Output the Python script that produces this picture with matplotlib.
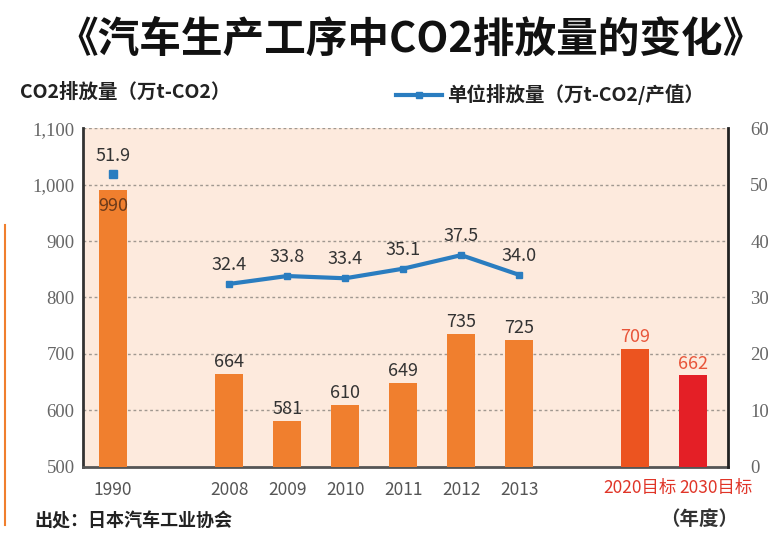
import matplotlib
matplotlib.use("Agg")
import matplotlib.pyplot as plt
import numpy as np

plt.rcParams['font.family'] = ['Noto Sans CJK SC', 'DejaVu Sans']

# data
categories = ["1990", "2008", "2009", "2010", "2011", "2012", "2013", "2020目标", "2030目标"]
positions = [0, 2, 3, 4, 5, 6, 7, 9, 10]
emissions = [990, 664, 581, 610, 649, 735, 725, 709, 662]
unit_1990 = 51.9
unit_years = [32.4, 33.8, 33.4, 35.1, 37.5, 34.0]   # 2008-2013
left_ticks = [500, 600, 700, 800, 900, 1000, 1100]
right_ticks = [0, 10, 20, 30, 40, 50, 60]

orange = "#f07f2e"
bar_colors = [orange] * 7 + ["#ec5420", "#e41f26"]
blue = "#2a7dc0"

fig = plt.figure(figsize=(7.68, 5.36), dpi=100)
fig.patch.set_facecolor("white")
ax = fig.add_axes([0.108, 0.129, 0.84, 0.632])
ax.set_facecolor("#fdeadd")

ax.bar(positions, [v - 500 for v in emissions], bottom=500, width=0.48,
       color=bar_colors, zorder=3)
ax.set_ylim(500, 1100)
ax.set_xlim(-0.52, 10.6)
ax.set_yticks(left_ticks)
ax.set_yticklabels(["{:,}".format(t) for t in left_ticks], family="Liberation Serif",
                   fontsize=13.5, color="#666")
for t in left_ticks[1:]:
    ax.axhline(t, color="#a09890", lw=1, ls=(0, (2, 2)), zorder=1)

ax.set_xticks(positions[:7])
ax.set_xticklabels(categories[:7], fontsize=12.5, color="#555")
# target labels sit side by side under the last two bars
ax.text(9.72, -0.035, categories[7], transform=ax.get_xaxis_transform(), ha="right",
        va="top", fontsize=12.5, color="#e03528")
ax.text(9.76, -0.035, categories[8], transform=ax.get_xaxis_transform(), ha="left",
        va="top", fontsize=12.5, color="#e03528")
ax.tick_params(axis="both", length=0, pad=6)
ax.tick_params(axis="x", pad=10)

ax.spines["top"].set_visible(False)
ax.spines["left"].set_color("#333")
ax.spines["left"].set_linewidth(2)
ax.spines["bottom"].set_color("#555")
ax.spines["bottom"].set_linewidth(2)
ax.spines["right"].set_visible(False)

# bar labels
for i, (p, v) in enumerate(zip(positions, emissions)):
    if i == 0:
        ax.text(p, v - 12, str(v), ha="center", va="top", fontsize=13, color="#6b3a1a", zorder=5)
    else:
        c = "#e8553a" if i >= 7 else "#333"
        ax.text(p, v + 5, str(v), ha="center", va="bottom", fontsize=13, color=c, zorder=5)

ax2 = ax.twinx()
ax2.set_ylim(0, 60)
ax2.set_yticks(right_ticks)
ax2.set_yticklabels([str(t) for t in right_ticks], family="Liberation Serif",
                    fontsize=13.5, color="#666")
ax2.tick_params(axis="y", length=0, pad=16)
for s in ["top", "left", "bottom"]:
    ax2.spines[s].set_visible(False)
ax2.spines["right"].set_color("#222")
ax2.spines["right"].set_linewidth(2)

ax2.plot(positions[1:7], unit_years, color=blue, lw=3, marker="s", ms=5, zorder=4)
ax2.plot([positions[0]], [unit_1990], color=blue, marker="s", ms=6, ls="none")
ax2.text(positions[0], unit_1990 + 1.5, "51.9", ha="center", va="bottom", fontsize=13, color="#333")
for p, v in zip(positions[1:7], unit_years):
    ax2.text(p, v + 1.8, "{:.1f}".format(v), ha="center", va="bottom", fontsize=13, color="#333")

fig.text(0.534, 0.925, "《汽车生产工序中CO2排放量的变化》", ha="center", va="center",
         fontsize=30, fontweight="bold", color="#111")
fig.text(0.026, 0.828, "CO2排放量（万t-CO2）", ha="left", va="center",
         fontsize=14, fontweight="bold", color="#222")
fig.lines.append(plt.Line2D([0.515, 0.545, 0.575], [0.823, 0.823, 0.823], color=blue, lw=3,
                            marker="s", ms=5, markevery=[1], transform=fig.transFigure))
fig.text(0.582, 0.823, "单位排放量（万t-CO2/产值）", ha="left", va="center",
         fontsize=14, fontweight="bold", color="#222")
fig.text(0.91, 0.03, "（年度）", ha="center", va="center", fontsize=14,
         fontweight="bold", color="#333")
fig.text(0.045, 0.028, "出处：日本汽车工业协会", ha="left", va="center", fontsize=13,
         fontweight="bold", color="#222")
fig.lines.append(plt.Line2D([0.007, 0.007], [0.02, 0.58], color=orange, lw=1.5,
                            transform=fig.transFigure))

fig.savefig("out.png", dpi=100)
